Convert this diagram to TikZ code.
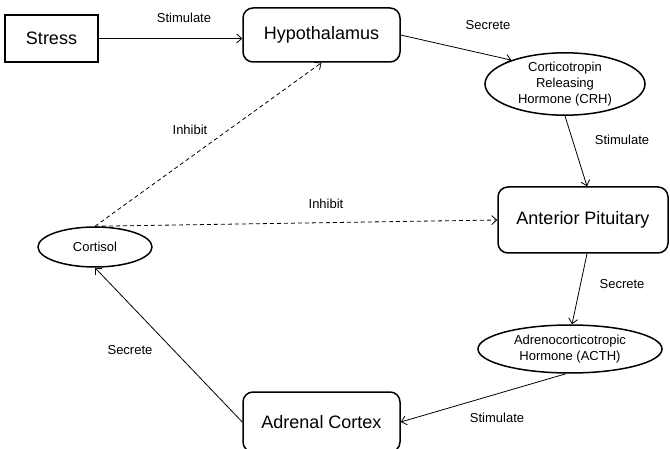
\documentclass[tikz,border=0pt]{standalone}
\usepackage{fontspec}
\setmainfont{Liberation Sans}
\usetikzlibrary{arrows.meta,shapes.geometric}
\begin{document}
\begin{tikzpicture}[x=1pt,y=-1pt,
  big/.style={font=\fontsize{18}{20}\selectfont},
  small/.style={font=\fontsize{13}{16}\selectfont},
  sqbox/.style={draw,line width=1.5pt,inner sep=0pt,big},
  rbox/.style={draw,line width=1.5pt,rounded corners=10pt,inner sep=0pt,big},
  oval/.style={draw,ellipse,line width=1.5pt,inner sep=0pt,small,align=center},
  lbl/.style={small,inner sep=0pt},
  arr/.style={line width=0.8pt,-{Straight Barb[length=5pt,width=9pt]}},
  darr/.style={arr,dash pattern=on 4pt off 3pt}]
\useasboundingbox (0,0) rectangle (670,449);
\clip (0,0) rectangle (670,449);
\node[sqbox,minimum width=93pt,minimum height=47pt] (stress) at (51.5,38.5) {Stress};
\node[rbox,minimum width=157pt,minimum height=54pt] (hyp) at (321.5,35) {Hypothalamus};
\node[oval,minimum width=160pt,minimum height=62pt] (crh) at (565,84) {Corticotropin\\Releasing\\Hormone (CRH)};
\node[rbox,minimum width=170pt,minimum height=66pt] (ap) at (583,220) {Anterior Pituitary};
\node[oval,minimum width=184pt,minimum height=48pt] (acth) at (570,349) {Adrenocorticotropic\\Hormone (ACTH)};
\node[rbox,minimum width=157pt,minimum height=60pt] (adr) at (321.5,422) {Adrenal Cortex};
\node[oval,minimum width=114pt,minimum height=40pt] (cort) at (95,247) {Cortisol};

\draw[arr] (stress.east) -- (stress.east -| hyp.west);
\draw[arr] (hyp.east) -- (crh.156);
\draw[arr] (crh.south) -- ([xshift=4pt]ap.north);
\draw[arr] ([xshift=4pt]ap.south) -- ([xshift=2pt]acth.north);
\draw[arr] ([xshift=-4pt]acth.south) -- (adr.east);
\draw[arr] (adr.west) -- (cort.south);
\draw[darr] (cort.north) -- (hyp.south);
\draw[darr] (cort.north) -- (ap.west);

\node[lbl] (l1) at (184,18) {Stimulate};
\node[lbl] (l2) at (488,25) {Secrete};
\node[lbl] (l3) at (622,140) {Stimulate};
\node[lbl] (l4) at (190,130) {Inhibit};
\node[lbl] (l5) at (326,204) {Inhibit};
\node[lbl] (l6) at (622,284) {Secrete};
\node[lbl] (l7) at (130,350) {Secrete};
\node[lbl] (l8) at (497,418) {Stimulate};
\end{tikzpicture}
\end{document}
